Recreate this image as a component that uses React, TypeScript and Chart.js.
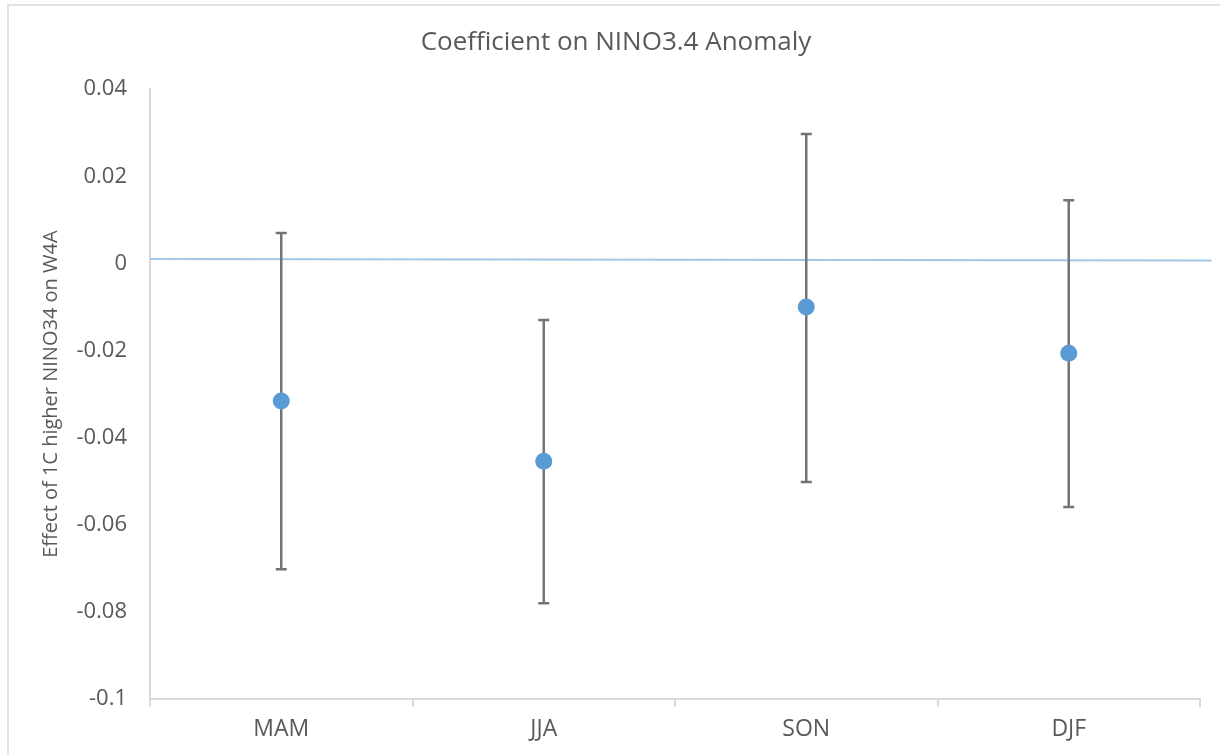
import React, { useEffect, useRef } from "react";
import { Chart, registerables } from "chart.js";

Chart.register(...registerables);

const categories = ["MAM", "JJA", "SON", "DJF"];
const coefficients = [-0.0316, -0.0454, -0.01, -0.0206];
const upperBounds = [0.007, -0.013, 0.0297, 0.0145];
const lowerBounds = [-0.0702, -0.078, -0.0502, -0.0559];
const baselineX = [0, 1.011];
const baselineY = [0.001, 0.0007];
const yTickLabels = ["-0.1", "-0.08", "-0.06", "-0.04", "-0.02", "0", "0.02", "0.04"];

const TEXT = "#595959";
const AXIS = "#d9d9d9";
const FONT = "'Open Sans', 'Noto Sans', sans-serif";

const errorBarPlugin = {
  id: "errorBars",
  beforeDatasetDraw(chart: any, args: any) {
    if (args.index !== 0) return;
    const ctx = chart.ctx;
    const x = chart.scales.x;
    const y = chart.scales.y;
    ctx.save();
    ctx.strokeStyle = "#747474";
    ctx.lineWidth = 2.5;
    categories.forEach((c, i) => {
      const px = x.getPixelForValue(i);
      const top = y.getPixelForValue(upperBounds[i]);
      const bot = y.getPixelForValue(lowerBounds[i]);
      ctx.beginPath();
      ctx.moveTo(px, top);
      ctx.lineTo(px, bot);
      ctx.moveTo(px - 5.5, top);
      ctx.lineTo(px + 5.5, top);
      ctx.moveTo(px - 5.5, bot);
      ctx.lineTo(px + 5.5, bot);
      ctx.stroke();
    });
    ctx.restore();
  },
};

export default function App() {
  const ref = useRef<HTMLCanvasElement>(null);
  useEffect(() => {
    if (!ref.current) return;
    const chart = new Chart(ref.current, {
      type: "line",
      data: {
        labels: categories,
        datasets: [
          {
            label: "Coefficient",
            data: coefficients,
            showLine: false,
            pointRadius: 8.5,
            pointBackgroundColor: "#5B9BD5",
            pointBorderColor: "#5B9BD5",
            pointBorderWidth: 0,
            xAxisID: "x",
            yAxisID: "y",
          },
          {
            label: "Zero",
            data: baselineX.map((v, i) => ({ x: v, y: baselineY[i] })),
            borderColor: "#a4c6e8",
            borderWidth: 2,
            pointRadius: 0,
            xAxisID: "xLine",
            yAxisID: "y",
            clip: false as any,
          } as any,
        ],
      },
      plugins: [errorBarPlugin],
      options: {
        animation: false,
        responsive: true,
        maintainAspectRatio: false,
        layout: { padding: { left: 32, right: 20, top: 0, bottom: 0 } },
        plugins: {
          legend: { display: false },
          tooltip: { enabled: false },
          title: {
            display: true,
            text: "Coefficient on NINO3.4 Anomaly",
            color: TEXT,
            font: { family: FONT, size: 26, weight: "normal" as any },
            padding: { top: 27, bottom: 31 },
          },
        },
        scales: {
          x: {
            type: "category",
            offset: true,
            grid: {
              offset: true,
              drawOnChartArea: false,
              drawTicks: true,
              tickLength: 8,
              color: AXIS,
              lineWidth: 2,
            },
            border: { display: true, color: AXIS, width: 2 },
            ticks: {
              color: TEXT,
              font: { family: FONT, size: 23 },
              padding: 9,
            },
            afterFit(scale: any) {
              scale.height = 56;
            },
          },
          xLine: {
            type: "linear",
            display: false,
            min: 0,
            max: 1,
          },
          y: {
            type: "linear",
            min: -0.1,
            max: 0.04,
            grid: { display: true, drawOnChartArea: false, drawTicks: false },
            border: { display: true, color: AXIS, width: 2 },
            ticks: {
              stepSize: 0.02,
              color: TEXT,
              font: { family: FONT, size: 22 },
              padding: 23,
              callback: (_v: any, i: number) => yTickLabels[i],
            },
            title: {
              display: true,
              text: "Effect of 1C higher NINO34 on W4A",
              color: TEXT,
              font: { family: FONT, size: 20 },
              padding: { top: 7, bottom: 0 },
            },
            afterFit(scale: any) {
              scale.width = 118;
            },
          },
        },
      },
    });
    return () => chart.destroy();
  }, []);
  return (
    <div style={{ position: "fixed", left: 0, top: 0, width: 1220, height: 755, background: "#fff" }}>
      <div
        style={{
          position: "absolute",
          left: 7,
          top: 4,
          right: 0,
          bottom: 0,
          borderLeft: "2px solid #e3e3e3",
          borderTop: "2px solid #e3e3e3",
        }}
      />
      <div style={{ position: "absolute", left: 0, top: 0, width: 1220, height: 755 }}>
        <canvas ref={ref} />
      </div>
    </div>
  );
}
